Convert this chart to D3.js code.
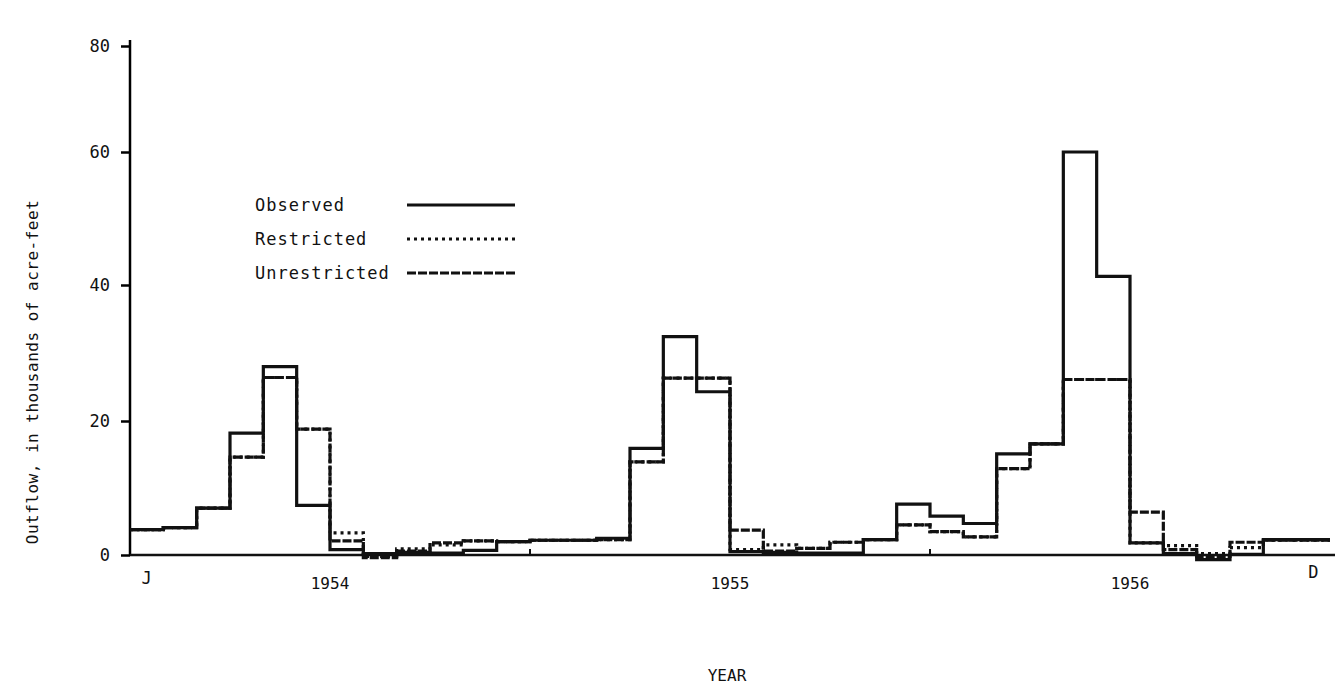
<!DOCTYPE html>
<html>
<head>
<meta charset="utf-8">
<script src="https://cdn.jsdelivr.net/npm/d3@7"></script>
<style>
      body { margin: 0; background: #fff; }
      svg { display: block; }
      text { font-family: 'DejaVu Sans Mono', monospace; fill: #111; }
</style>
</head>
<body>
<svg></svg>
<script>
// monthly outflow, Jan 1954 .. Dec 1956, thousands of acre-feet
const months = d3.range(36);
const years = ['1954', '1955', '1956'];
const yTicks = [0, 20, 40, 60, 80];

const observed = [
      3.8, 4.1, 7.0, 18.2, 28.0, 7.4, 0.8, 0.2, 0.4, 0.3, 0.7, 2.0,
      2.2, 2.2, 2.5, 15.9, 32.4, 24.3, 0.5, 0.4, 0.3, 0.3, 2.3, 7.6,
      5.8, 4.7, 15.1, 16.6, 60.0, 41.3, 1.8, 0.2, -0.7, 0.1, 2.3, 2.3
];
const restricted = [
      3.8, 4.1, 7.0, 14.6, 26.4, 18.8, 3.3, -0.2, 0.9, 1.5, 2.1, 2.0,
      2.2, 2.2, 2.3, 13.9, 26.3, 26.3, 0.8, 1.5, 1.0, 1.9, 2.3, 4.5,
      3.5, 2.7, 12.9, 16.6, 26.1, 26.1, 1.8, 1.4, 0.2, 1.1, 2.2, 2.2
];
const unrestricted = [
      3.8, 4.1, 7.0, 14.6, 26.4, 18.8, 2.1, -0.4, 0.6, 1.8, 2.1, 2.0,
      2.2, 2.2, 2.3, 13.9, 26.3, 26.3, 3.7, 0.6, 1.0, 1.9, 2.3, 4.5,
      3.5, 2.7, 12.9, 16.6, 26.1, 26.1, 6.4, 0.8, -0.2, 1.9, 2.2, 2.2
];

const width = 1340;
const height = 688;
const svg = d3.select('svg')
      .attr('width', width)
      .attr('height', height);

const x = d3.scaleLinear()
      .domain([0, 36])
      .range([130, 1330]);
// the scanned axis is not quite even, so map each tick where it sits
const y = d3.scaleLinear()
      .domain(yTicks)
      .range([555, 421, 285, 152, 46]);

// y axis
const yAxis = d3.axisLeft(y)
      .tickValues(yTicks)
      .tickSize(9)
      .tickPadding(11);
const gy = svg.append('g')
      .attr('transform', `translate(${x(0)},0)`)
      .call(yAxis);
gy.select('.domain').attr('stroke-width', 2.5).attr('d', `M0,${y(0)}V${y(80) - 6}`);
gy.selectAll('.tick line').attr('stroke-width', 2.5);
gy.selectAll('.tick text').style('font-size', '17px').style('font-family', "'DejaVu Sans Mono', monospace");

// x axis baseline with year boundary ticks
svg.append('line')
      .attr('x1', x(0)).attr('x2', x(36) + 5)
      .attr('y1', y(0)).attr('y2', y(0))
      .attr('stroke', '#111').attr('stroke-width', 2.5);
svg.selectAll('.ytick')
      .data([12, 24])
      .enter()
      .append('line')
      .attr('x1', d => x(d)).attr('x2', d => x(d))
      .attr('y1', y(0)).attr('y2', y(0) - 6)
      .attr('stroke', '#111').attr('stroke-width', 2);

svg.selectAll('.year')
      .data(years)
      .enter()
      .append('text')
      .attr('x', (d, i) => x(i * 12 + 6))
      .attr('y', 589)
      .attr('text-anchor', 'middle')
      .style('font-size', '16px')
      .text(d => d);

svg.append('text').attr('x', x(0.5)).attr('y', 584).attr('text-anchor', 'middle')
      .style('font-size', '17px').text('J');
svg.append('text').attr('x', x(35.5)).attr('y', 578).attr('text-anchor', 'middle')
      .style('font-size', '17px').text('D');

svg.append('text')
      .attr('x', 727).attr('y', 681)
      .attr('text-anchor', 'middle')
      .style('font-size', '16px')
      .text('YEAR');

svg.append('text')
      .attr('transform', 'translate(38,372) rotate(-90)')
      .attr('text-anchor', 'middle')
      .style('font-size', '16px')
      .style('letter-spacing', '0.5px')
      .text('Outflow, in thousands of acre-feet');

// step lines
const series = [
      { name: 'Observed', values: observed, dash: null },
      { name: 'Restricted', values: restricted, dash: '3,4' },
      { name: 'Unrestricted', values: unrestricted, dash: '9,2' }
];
const line = d3.line()
      .x(d => x(d[0]))
      .y(d => y(d[1]))
      .curve(d3.curveStepAfter);

series.slice().reverse().forEach(s => {
      const pts = months.map(i => [i, s.values[i]]);
      pts.push([36, s.values[35]]);
      svg.append('path')
            .attr('d', line(pts))
            .attr('fill', 'none')
            .attr('stroke', '#111')
            .attr('stroke-width', 3.2)
            .attr('stroke-dasharray', s.dash);
});

// legend
const legend = svg.selectAll('.legend')
      .data(series)
      .enter()
      .append('g')
      .attr('transform', (d, i) => `translate(255,${205 + i * 34})`);
legend.append('text')
      .attr('y', 6)
      .style('font-size', '17px')
      .style('letter-spacing', '1px')
      .text(d => d.name);
legend.append('line')
      .attr('x1', 152).attr('x2', 260)
      .attr('stroke', '#111')
      .attr('stroke-width', 3)
      .attr('stroke-dasharray', d => d.dash);
</script>
</body>
</html>
